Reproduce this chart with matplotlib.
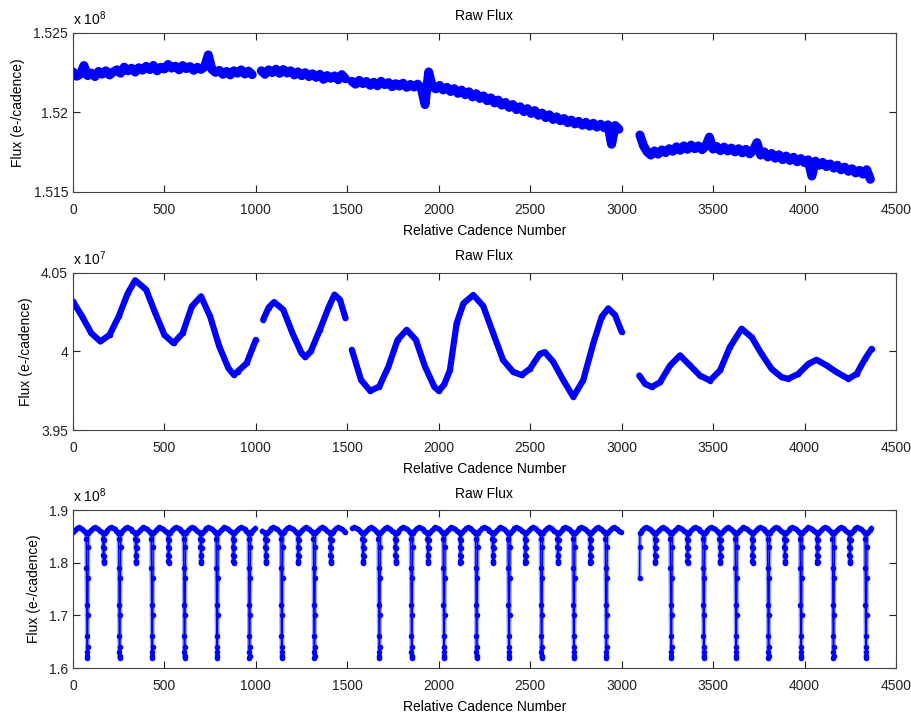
import numpy as np
import matplotlib.pyplot as plt

plt.rcParams['font.family'] = ['Liberation Sans', 'DejaVu Sans']
plt.rcParams['mathtext.fontset'] = 'custom'
plt.rcParams['mathtext.rm'] = 'Liberation Sans'

# ---------------- panel 1 : slow drift (x 10^8), sampled every 20 cadences
p1_starts = [0, 1030, 1525, 3100]
p1_seg1 = [1.52255, 1.52228, 1.52240, 1.52295, 1.52232, 1.52248, 1.52226, 1.52258, 1.52241, 1.52262,
           1.52236, 1.52255, 1.52268, 1.52247, 1.52285, 1.52262, 1.52278, 1.52254, 1.52281, 1.52266,
           1.52290, 1.52270, 1.52296, 1.52262, 1.52284, 1.52273, 1.52302, 1.52279, 1.52291, 1.52268,
           1.52295, 1.52276, 1.52289, 1.52265, 1.52284, 1.52271, 1.52288, 1.52362, 1.52270, 1.52252,
           1.52265, 1.52240, 1.52258, 1.52236, 1.52262, 1.52247, 1.52268, 1.52242, 1.52260, 1.52238]
p1_seg2 = [1.52262, 1.52240, 1.52268, 1.52251, 1.52272, 1.52246, 1.52270, 1.52248, 1.52262, 1.52236,
           1.52255, 1.52232, 1.52250, 1.52226, 1.52243, 1.52221, 1.52240, 1.52208, 1.52232, 1.52215,
           1.52230, 1.52206, 1.52238, 1.52212]
p1_seg3 = [1.52196, 1.52178, 1.52202, 1.52182, 1.52195, 1.52171, 1.52190, 1.52168, 1.52196, 1.52175,
           1.52188, 1.52162, 1.52181, 1.52166, 1.52184, 1.52158, 1.52176, 1.52160, 1.52178, 1.52152,
           1.52050, 1.52255, 1.52162, 1.52148, 1.52170, 1.52142, 1.52158, 1.52132, 1.52150, 1.52120,
           1.52141, 1.52112, 1.52130, 1.52098, 1.52118, 1.52088, 1.52104, 1.52074, 1.52092, 1.52060,
           1.52078, 1.52046, 1.52063, 1.52032, 1.52050, 1.52018, 1.52036, 1.52006, 1.52024, 1.51994,
           1.52012, 1.51982, 1.51996, 1.51968, 1.51985, 1.51956, 1.51972, 1.51948, 1.51962, 1.51936,
           1.51952, 1.51928, 1.51944, 1.51920, 1.51938, 1.51914, 1.51932, 1.51908, 1.51926, 1.51904,
           1.51922, 1.51800, 1.51918, 1.51895]
p1_seg4 = [1.51858, 1.51790, 1.51752, 1.51732, 1.51758, 1.51738, 1.51764, 1.51748, 1.51772, 1.51756,
           1.51784, 1.51762, 1.51790, 1.51768, 1.51795, 1.51772, 1.51790, 1.51766, 1.51788, 1.51845,
           1.51770, 1.51786, 1.51760, 1.51782, 1.51758, 1.51776, 1.51752, 1.51772, 1.51746, 1.51768,
           1.51740, 1.51762, 1.51810, 1.51732, 1.51752, 1.51720, 1.51742, 1.51712, 1.51734, 1.51704,
           1.51726, 1.51698, 1.51718, 1.51690, 1.51710, 1.51684, 1.51702, 1.51600, 1.51694, 1.51668,
           1.51686, 1.51660, 1.51676, 1.51650, 1.51668, 1.51640, 1.51656, 1.51630, 1.51646, 1.51620,
           1.51636, 1.51612, 1.51640, 1.51580]

# ---------------- panel 2 : spotted star (x 10^7), read at irregular cadences
p2_x1 = [0, 50, 100, 150, 200, 250, 300, 340, 400, 450, 500, 550, 600, 650, 700, 750, 800, 850, 880, 900, 950, 1000]
p2_y1 = [4.0319, 4.0223, 4.0117, 4.0064, 4.0106, 4.0223, 4.0372, 4.0453, 4.0394, 4.0245, 4.0106,
         4.0053, 4.0117, 4.0287, 4.0351, 4.0223, 4.0032, 3.9894, 3.9851, 3.9872, 3.9926, 4.0074]
p2_x2 = [1040, 1070, 1100, 1150, 1200, 1250, 1270, 1300, 1350, 1400, 1430, 1460, 1490]
p2_y2 = [4.0202, 4.0280, 4.0315, 4.0266, 4.0117, 3.9989, 3.9964, 4.0000, 4.0138, 4.0287, 4.0362, 4.0330, 4.0213]
p2_x3 = [1525, 1575, 1625, 1675, 1725, 1775, 1825, 1875, 1925, 1975, 2000, 2030, 2061, 2098, 2135, 2189,
         2243, 2298, 2352, 2407, 2453, 2499, 2553, 2580, 2626, 2681, 2736, 2790, 2845, 2891, 2927, 2964, 3000]
p2_y3 = [4.0011, 3.9819, 3.9749, 3.9777, 3.9904, 4.0074, 4.0138, 4.0074, 3.9904, 3.9777, 3.9749, 3.9790,
         3.9880, 4.0180, 4.0306, 4.0360, 4.0290, 4.0115, 3.9945, 3.9870, 3.9850, 3.9890, 3.9985, 3.9996,
         3.9934, 3.9817, 3.9711, 3.9817, 4.0051, 4.0221, 4.0274, 4.0232, 4.0126]
p2_x4 = [3097, 3128, 3165, 3210, 3265, 3319, 3374, 3428, 3483, 3538, 3592, 3656, 3711, 3765, 3820, 3875,
         3911, 3966, 4021, 4066, 4121, 4176, 4240, 4285, 4331, 4367]
p2_y4 = [3.9847, 3.9794, 3.9774, 3.9804, 3.9911, 3.9975, 3.9911, 3.9847, 3.9815, 3.9879, 4.0028, 4.0145,
         4.0091, 3.9985, 3.9889, 3.9836, 3.9826, 3.9857, 3.9921, 3.9947, 3.9911, 3.9868, 3.9826, 3.9857,
         3.9953, 4.0017]

# ---------------- panel 3 : eclipsing binary (x 10^8)
p3_segments = [(0, 1000), (1031, 1488), (1527, 3000), (3098, 4366)]
p3_primary = [-99, 78, 255, 433, 610, 788, 965, 1142, 1320, 1497, 1675, 1852, 2029, 2207, 2384,
              2562, 2739, 2916, 3094, 3271, 3449, 3626, 3803, 3981, 4158, 4336]
# flux vs cadence offset from each primary eclipse, one orbit
p3_off = [-6, -5, -4, -3, -2, -1, 0, 1, 2, 3, 4, 5, 6, 10, 20, 30, 40, 50, 60, 70, 80,
          85, 86, 87, 88, 89, 90, 91, 92, 93, 94, 95, 100, 110, 120, 130, 140, 150, 160, 168]
p3_flux = [1.857, 1.845, 1.79, 1.72, 1.66, 1.63, 1.619, 1.622, 1.64, 1.70, 1.77, 1.83, 1.856,
           1.858, 1.862, 1.865, 1.867, 1.866, 1.864, 1.861, 1.858,
           1.856, 1.845, 1.83, 1.815, 1.803, 1.80, 1.802, 1.812, 1.828, 1.843, 1.856,
           1.858, 1.862, 1.865, 1.867, 1.866, 1.864, 1.861, 1.858]

xticks = [0, 500, 1000, 1500, 2000, 2500, 3000, 3500, 4000, 4500]

p1 = [(np.arange(len(v)) * 20 + s, np.array(v)) for s, v in zip(p1_starts, [p1_seg1, p1_seg2, p1_seg3, p1_seg4])]
p2 = [(np.array(a), np.array(b)) for a, b in [(p2_x1, p2_y1), (p2_x2, p2_y2), (p2_x3, p2_y3), (p2_x4, p2_y4)]]

all_x = np.concatenate([t + np.array(p3_off) for t in p3_primary])
all_y = np.concatenate([np.array(p3_flux) for t in p3_primary])
order = np.argsort(all_x)
all_x, all_y = all_x[order], all_y[order]
p3 = []
for a, b in p3_segments:
    m = (all_x >= a) & (all_x <= b)
    p3.append((all_x[m], all_y[m]))

fig = plt.figure(figsize=(9.12, 7.15), dpi=100)
boxes = [[0.080, 0.7315, 0.9024, 0.2224], [0.080, 0.3986, 0.9024, 0.2196], [0.080, 0.0657, 0.9024, 0.221]]
ylims = [(1.515, 1.525), (3.95, 4.05), (1.6, 1.9)]
yticks = [[1.515, 1.52, 1.525], [3.95, 4.0, 4.05], [1.6, 1.7, 1.8, 1.9]]
ylabs = [['1.515', '1.52', '1.525'], ['3.95', '4', '4.05'], ['1.6', '1.7', '1.8', '1.9']]
exps = ['8', '7', '8']

for i, segs in enumerate([p1, p2, p3]):
    ax = fig.add_axes(boxes[i])
    for x, y in segs:
        if i == 1:
            ax.plot(x, y, '-', color='blue', lw=4.5, solid_capstyle='round')
            ax.plot(x, y, '.', color='blue', ms=6)
        elif i == 0:
            ax.plot(x, y, '-', color='blue', lw=6.5, solid_capstyle='round')
            ax.plot(x, y, '.-', color='blue', lw=1, ms=7)
        else:
            ax.plot(x, y, '-', color='#9aa4ff', lw=3)
            ax.plot(x, y, '.-', color='blue', lw=1, ms=6)
    ax.set_xlim(0, 4500)
    ax.set_ylim(*ylims[i])
    ax.set_xticks(xticks)
    ax.set_yticks(yticks[i])
    ax.set_yticklabels(ylabs[i])
    ax.tick_params(direction='in', top=True, right=True, length=5, labelsize=10, colors='#222222', width=0.8)
    ax.tick_params(axis='x', pad=8)
    for sp in ax.spines.values():
        sp.set_color('#444444')
        sp.set_linewidth(0.8)
    ax.set_title('Raw Flux', fontsize=10, pad=9)
    ax.set_xlabel('Relative Cadence Number', fontsize=10, labelpad=5)
    ax.set_ylabel('Flux (e-/cadence)', fontsize=10, labelpad=6)
    ax.text(0, 1.03, r'x 10$^{%s}$' % exps[i], transform=ax.transAxes, fontsize=10, ha='left', va='bottom')

fig.savefig('out.png', dpi=100)
